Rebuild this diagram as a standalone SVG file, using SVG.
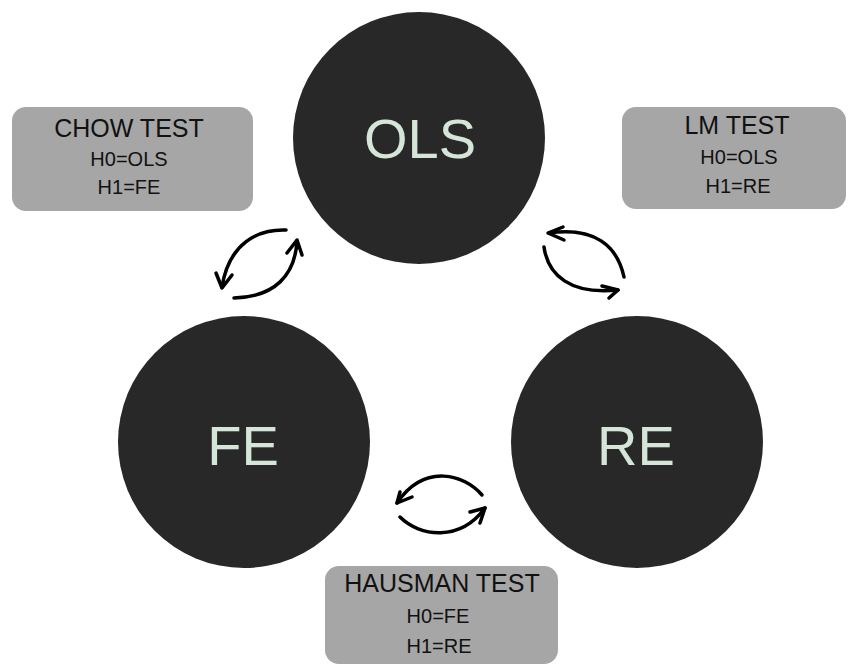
<svg xmlns="http://www.w3.org/2000/svg" width="848" height="664" viewBox="0 0 848 664">
  <style>
    .model { fill: #282828; }
    .model-label { font-family: "Liberation Sans", Arial, sans-serif; font-size: 56px; fill: #d5e6d8; text-anchor: middle; }
    .test-box { fill: #a6a6a6; }
    .test-title { font-family: "Liberation Sans", Arial, sans-serif; font-size: 25px; fill: #111111; text-anchor: middle; }
    .test-hyp { font-family: "Liberation Sans", Arial, sans-serif; font-size: 20px; fill: #111111; text-anchor: middle; }
    .loop { fill: none; stroke: #000000; stroke-width: 3.5; stroke-linecap: round; stroke-linejoin: round; }
  </style>
  <rect width="848" height="664" fill="#ffffff"/>

  <!-- model nodes -->
  <g id="ols">
    <circle class="model" cx="419" cy="138" r="126"/>
    <text class="model-label" x="420" y="158">OLS</text>
  </g>
  <g id="fe">
    <circle class="model" cx="244" cy="442" r="126"/>
    <text class="model-label" x="243" y="465">FE</text>
  </g>
  <g id="re">
    <circle class="model" cx="637" cy="442" r="126"/>
    <text class="model-label" x="636" y="465">RE</text>
  </g>

  <!-- test cards -->
  <g id="chow-test">
    <rect class="test-box" x="12" y="107" width="241" height="104" rx="14"/>
    <text class="test-title" x="129" y="137">CHOW TEST</text>
    <text class="test-hyp" x="129" y="166">H0=OLS</text>
    <text class="test-hyp" x="129" y="194">H1=FE</text>
  </g>
  <g id="lm-test">
    <rect class="test-box" x="622" y="107" width="224" height="102" rx="14"/>
    <text class="test-title" x="737" y="134">LM TEST</text>
    <text class="test-hyp" x="739" y="164">H0=OLS</text>
    <text class="test-hyp" x="738" y="193">H1=RE</text>
  </g>
  <g id="hausman-test">
    <rect class="test-box" x="325" y="566" width="233" height="98" rx="14"/>
    <text class="test-title" x="442" y="592">HAUSMAN TEST</text>
    <text class="test-hyp" x="438" y="623">H0=FE</text>
    <text class="test-hyp" x="439" y="653">H1=RE</text>
  </g>

  <!-- two-way arrows between models -->
  <g id="connectors">
    <!-- OLS <-> FE -->
    <path class="loop" d="M286 230 C258 229 229 243 222 287"/>
    <path class="loop" d="M216 273 L222 288 L232 275"/>
    <path class="loop" d="M234 298 C275 297 295 275 297 241"/>
    <path class="loop" d="M287 253 L297 240 L302 255"/>
    <!-- OLS <-> RE -->
    <path class="loop" d="M624 277 C617 245 594 227 549 233"/>
    <path class="loop" d="M563 227 L548 233 L564 240"/>
    <path class="loop" d="M544 247 C548 275 570 295 618 290"/>
    <path class="loop" d="M602 286 L618 290 L609 298"/>
    <!-- FE <-> RE -->
    <path class="loop" d="M482 495 C465 475 425 462 397 503"/>
    <path class="loop" d="M400 492 L397 503 L412 497"/>
    <path class="loop" d="M400 517 C420 537 460 542 485 508"/>
    <path class="loop" d="M470 512 L485 508 L480 523"/>
  </g>
</svg>
